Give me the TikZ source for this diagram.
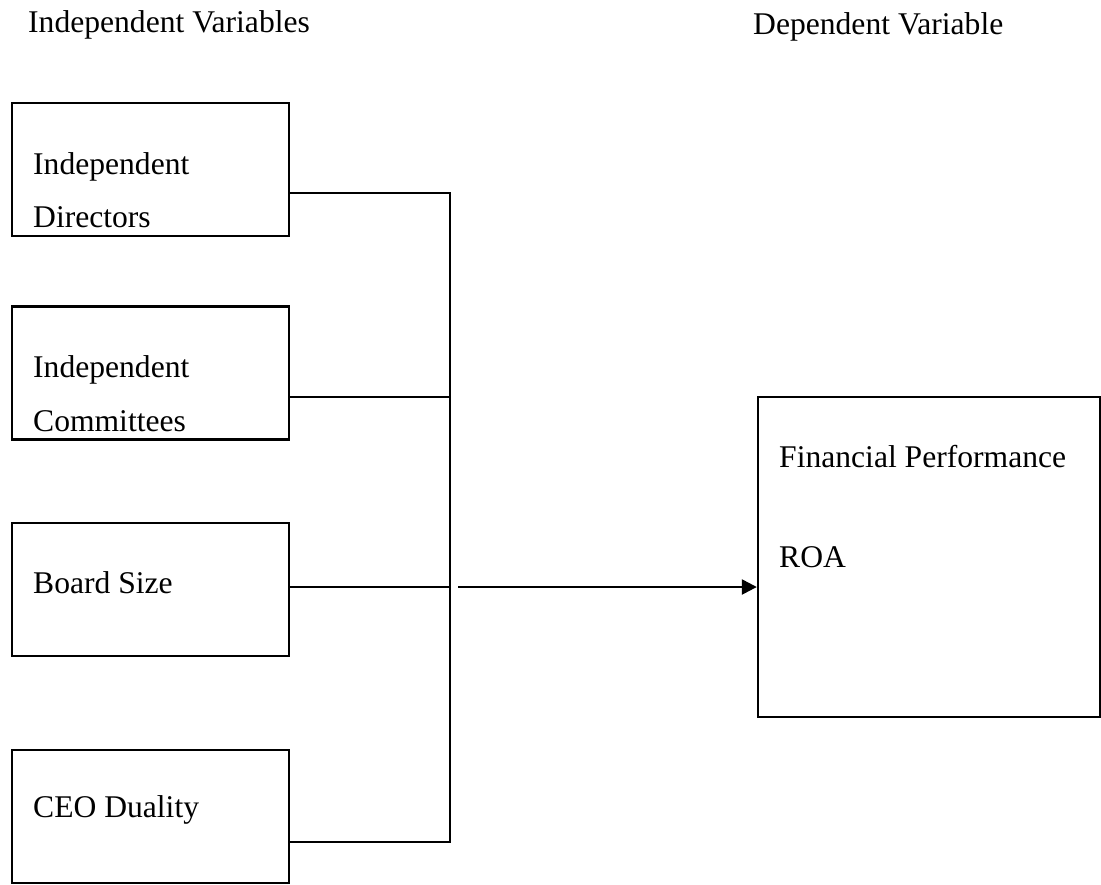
\documentclass[tikz,border=0pt]{standalone}
\usepackage{fontspec}
\setmainfont{Liberation Serif}
\usetikzlibrary{arrows.meta}
\begin{document}
\begin{tikzpicture}[x=0.5pt,y=-0.5pt,line width=1.2pt,
  box/.style={draw, minimum width=138.5pt, minimum height=66.5pt, inner sep=0pt},
  lbl/.style={anchor=west, align=left, inner sep=0pt, font=\fontsize{15.8}{26.8}\selectfont}]
\useasboundingbox (0,0) rectangle (1101,884);
\node[lbl] (ivhead) at (27,25) {Independent Variables};
\node[lbl] (dvhead) at (752,27) {Dependent Variable};
\node[box] (var1) at (150.5,169.5){};
\node[lbl] (lab1) at (32,190) {Independent\\Directors};
\node[box] (var2) at (150.5,373){};
\node[lbl] (lab2) at (32,393.5) {Independent\\Committees};
\node[box] (var3) at (150.5,589.5){};
\node[lbl] (lab3) at (32,583) {Board Size};
\node[box] (var4) at (150.5,816.5){};
\node[lbl] (lab4) at (32,810) {CEO Duality};
\node[draw, minimum width=171pt, minimum height=160pt, inner sep=0pt] (dv) at (929,557){};
\node[lbl] (lab5) at (778,457) {Financial Performance};
\node[lbl] (lab6) at (778,557) {ROA};
\coordinate (j1) at (450,193);
\coordinate (j2) at (450,397);
\coordinate (j3) at (450,587);
\coordinate (j4) at (450,842);
\coordinate (a0) at (458,587);
\draw[](var1.east |- j1) -- (j1) -- (j4) -- (var4.east |- j4);
\draw[](var2.east |- j2) -- (j2);
\draw[](var3.east |- j3) -- (j3);
\draw[-{Triangle[length=7.5pt,width=7.5pt]}](a0) -- (dv.west |- a0);
\end{tikzpicture}
\end{document}
